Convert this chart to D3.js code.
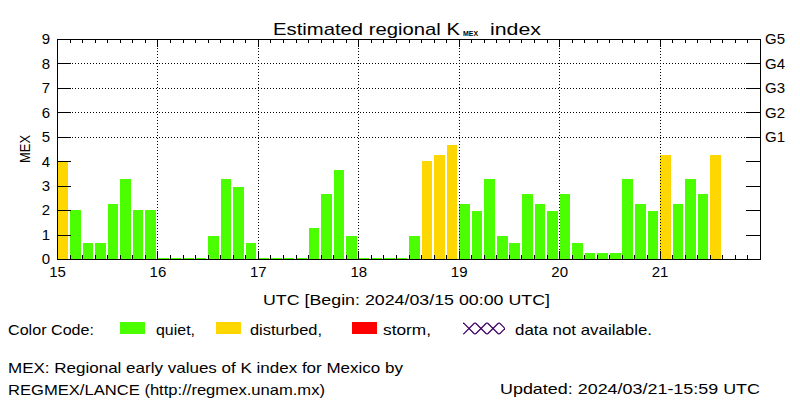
<!DOCTYPE html>
<html>
<head>
<meta charset="utf-8">
<script src="https://cdn.jsdelivr.net/npm/d3@7"></script>
<style>
  html, body { margin: 0; padding: 0; background: #fff; }
  svg { display: block; }
  text { font-family: "Liberation Sans", Arial, sans-serif; fill: #000; }
</style>
</head>
<body>
<svg id="chart" width="800" height="400"></svg>
<script>
// ---- data (3-hourly K_MEX values starting 2024/03/15 00:00 UTC) ----
const dayLabels = ["15", "16", "17", "18", "19", "20", "21"];
const kValues = [
  4.0, 2.0, 0.65, 0.65, 2.26, 3.27, 2.0, 2.0,     // 15
  0.05, 0.05, 0.05, 0.05, 0.95, 3.27, 2.95, 0.65, // 16
  0.05, 0.05, 0.05, 0.05, 1.28, 2.67, 3.65, 0.95, // 17
  0.05, 0.05, 0.05, 0.05, 0.95, 4.0, 4.25, 4.66,  // 18
  2.26, 1.98, 3.27, 0.95, 0.65, 2.67, 2.26, 1.98, // 19
  2.67, 0.65, 0.25, 0.25, 0.25, 3.27, 2.26, 1.98, // 20
  4.25, 2.26, 3.27, 2.67, 4.25                    // 21
];
const yTicks = [0, 1, 2, 3, 4, 5, 6, 7, 8, 9];
const gLevels = [5, 6, 7, 8, 9];
const gLabels = ["G1", "G2", "G3", "G4", "G5"];
const legendLabels = ["quiet,", "disturbed,", "storm,"];
const legendColors = ["#4cff00", "#ffd700", "#ff0000"];

const svg = d3.select("#chart");
const L = 57, R = 760, T = 39, B = 259;
const x = d3.scaleLinear().domain([0, 7]).range([L, R]);
const y = d3.scaleLinear().domain([0, 9]).range([B, T]);
const step = x(1 / 8) - x(0);
const colorOf = v => v >= 5 ? legendColors[2] : (v >= 4 ? legendColors[1] : legendColors[0]);

// title
svg.append("text").attr("x", 273).attr("y", 35).attr("font-size", 17)
  .attr("textLength", 187).attr("lengthAdjust", "spacingAndGlyphs").text("Estimated regional K");
svg.append("text").attr("x", 463).attr("y", 36).attr("font-size", 8).attr("font-weight", "bold")
  .attr("textLength", 15).attr("lengthAdjust", "spacingAndGlyphs").text("MEX");
svg.append("text").attr("x", 490).attr("y", 35).attr("font-size", 17)
  .attr("textLength", 51).attr("lengthAdjust", "spacingAndGlyphs").text("index");

// bars
svg.append("g").selectAll("rect").data(kValues).join("rect")
  .attr("x", (d, i) => x(i / 8) + 0.5)
  .attr("width", step - 1.9)
  .attr("y", d => y(d))
  .attr("height", d => y(0) - y(d))
  .attr("fill", d => colorOf(d))
  .attr("shape-rendering", "crispEdges");

// dotted grid
const grid = svg.append("g").attr("stroke", "#000").attr("stroke-width", 1)
  .attr("stroke-dasharray", "1,2").attr("shape-rendering", "crispEdges");
grid.selectAll("line.v").data(d3.range(1, 7)).join("line").attr("class", "v")
  .attr("x1", d => Math.round(x(d)) + 0.5).attr("x2", d => Math.round(x(d)) + 0.5)
  .attr("y1", T).attr("y2", B);
grid.selectAll("line.h").data([5, 6, 7, 8]).join("line").attr("class", "h")
  .attr("x1", L).attr("x2", R)
  .attr("y1", d => Math.round(y(d)) + 0.5).attr("y2", d => Math.round(y(d)) + 0.5);

function styleAxis(g) {
  g.select(".domain").remove();
  g.attr("font-family", null).attr("font-size", 15);
  g.selectAll("line").attr("stroke", "#000").attr("shape-rendering", "crispEdges");
  g.selectAll("text").attr("fill", "#000");
}

const minor = d3.range(0, 57).map(i => i / 8);
const major = d3.range(0, 8);
// top axis
svg.append("g").attr("transform", `translate(0,${T})`)
  .call(d3.axisTop(x).tickValues(minor).tickSize(-4).tickFormat(""))
  .call(styleAxis);
svg.append("g").attr("transform", `translate(0,${T})`)
  .call(d3.axisTop(x).tickValues(major).tickSize(-8).tickFormat(""))
  .call(styleAxis);
// bottom axis
svg.append("g").attr("transform", `translate(0,${B})`)
  .call(d3.axisBottom(x).tickValues(minor).tickSize(-4).tickFormat(""))
  .call(styleAxis);
svg.append("g").attr("transform", `translate(0,${B})`)
  .call(d3.axisBottom(x).tickValues(d3.range(0, dayLabels.length)).tickSize(-8).tickPadding(7)
    .tickFormat(i => dayLabels[i]))
  .call(styleAxis);
// left axis
svg.append("g").attr("transform", `translate(${L},0)`)
  .call(d3.axisLeft(y).tickValues(yTicks).tickSize(-14).tickPadding(7).tickFormat(d3.format("d")))
  .call(styleAxis);
// right axis
svg.append("g").attr("transform", `translate(${R},0)`)
  .call(d3.axisRight(y).tickValues(yTicks).tickSize(-14).tickFormat(""))
  .call(styleAxis);
svg.append("g").attr("transform", `translate(${R},0)`)
  .call(d3.axisRight(y).tickValues(gLevels).tickSize(0).tickPadding(5)
    .tickFormat((d, i) => gLabels[i]))
  .call(styleAxis);

// frame
svg.append("rect").attr("x", L + 0.5).attr("y", T + 0.5).attr("width", R - L).attr("height", B - T)
  .attr("fill", "none").attr("stroke", "#000").attr("shape-rendering", "crispEdges");

// axis titles
svg.append("text").attr("transform", "translate(30,149) rotate(-90)").attr("text-anchor", "middle")
  .attr("font-size", 15).attr("textLength", 28).attr("lengthAdjust", "spacingAndGlyphs").text("MEX");
svg.append("text").attr("x", 263).attr("y", 305).attr("font-size", 15)
  .attr("textLength", 287).attr("lengthAdjust", "spacingAndGlyphs")
  .text("UTC [Begin: 2024/03/15 00:00 UTC]");

// legend
function txt(s, xx, yy, len) {
  return svg.append("text").attr("x", xx).attr("y", yy).attr("font-size", 15)
    .attr("textLength", len).attr("lengthAdjust", "spacingAndGlyphs").text(s);
}
txt("Color Code:", 8, 335, 86);
const boxX = [120, 216, 352];
const labX = [156, 250, 383];
const labW = [39, 72, 48];
legendLabels.forEach((s, i) => {
  svg.append("rect").attr("x", boxX[i]).attr("y", 322).attr("width", 25).attr("height", 12)
    .attr("fill", legendColors[i]);
  txt(s, labX[i], 335, labW[i]);
});
// "data not available" crosshatch
const clip = svg.append("clipPath").attr("id", "xclip");
clip.append("rect").attr("x", 463).attr("y", 322.5).attr("width", 42).attr("height", 12);
const hatch = svg.append("g").attr("clip-path", "url(#xclip)").attr("stroke", "#3c0060")
  .attr("stroke-width", 1.2);
d3.range(-12, 48, 12).forEach(k => {
  hatch.append("line").attr("x1", 463 + k).attr("y1", 334.5).attr("x2", 475 + k).attr("y2", 322.5);
  hatch.append("line").attr("x1", 463 + k).attr("y1", 322.5).attr("x2", 475 + k).attr("y2", 334.5);
});
txt("data not available.", 515, 335, 137);

txt("MEX: Regional early values of K index for Mexico by", 8, 373, 395);
txt("REGMEX/LANCE (http://regmex.unam.mx)", 8, 395, 317);
txt("Updated: 2024/03/21-15:59 UTC", 500, 394, 260);
</script>
</body>
</html>
